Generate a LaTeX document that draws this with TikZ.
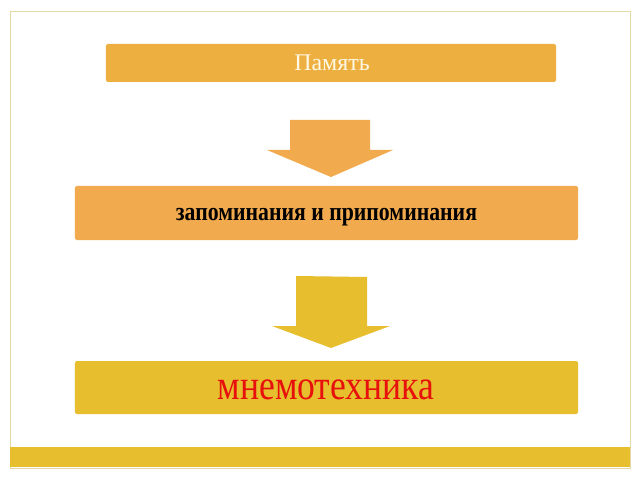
\documentclass[tikz,border=0pt]{standalone}
\usepackage{fontspec}
\setmainfont{Liberation Serif}
\definecolor{gold1}{HTML}{EDB040}
\definecolor{orng}{HTML}{F2AA4E}
\definecolor{mustard}{HTML}{E6BE2E}
\definecolor{frameline}{HTML}{E2D9A6}
\definecolor{txtred}{HTML}{E8100C}
\definecolor{cream}{HTML}{FFF8E4}
\begin{document}
\begin{tikzpicture}[x=1bp,y=-1bp,
  boxstyle/.style={rounded corners=2bp, inner sep=0pt},
  labelstyle/.style={anchor=base, inner sep=0pt}]
\useasboundingbox (0,0) rectangle (640,480);
\fill[white] (0,0) rectangle (640,480);
\draw[frameline, line width=1bp] (10,12) rectangle (630,468);
\fill[mustard] (10,447) rectangle (630,467);
% boxes
\node[boxstyle, fill=gold1, minimum width=450bp, minimum height=38bp] (b1) at (331,63) {};
\node[boxstyle, fill=orng, minimum width=503bp, minimum height=54bp] (b2) at (326.5,213) {};
\node[boxstyle, fill=mustard, minimum width=503bp, minimum height=53bp] (b3) at (326.5,387.5) {};
% labels
\node[labelstyle] (t1) at (332,71)
  {\fontsize{24}{24}\selectfont\color{cream}Память};
\node[labelstyle] (t2) at (326.5,221)
  {\fontsize{26}{26}\selectfont\bfseries\scalebox{0.84}[1]{запоминания и припоминания}};
\node[labelstyle] (t3) at (326,399)
  {\fontsize{42}{42}\selectfont\color{txtred}\scalebox{0.85}[1]{мнемотехника}};
% arrows
\fill[orng] (290,120) -- (370,120) -- (370,150) -- (393,150) -- (331,177) -- (267,150) -- (290,150) -- cycle;
\fill[mustard] (296,276) -- (367,277) -- (367,326) -- (390,326) -- (331,348) -- (272,326) -- (296,326) -- cycle;
\end{tikzpicture}
\end{document}
